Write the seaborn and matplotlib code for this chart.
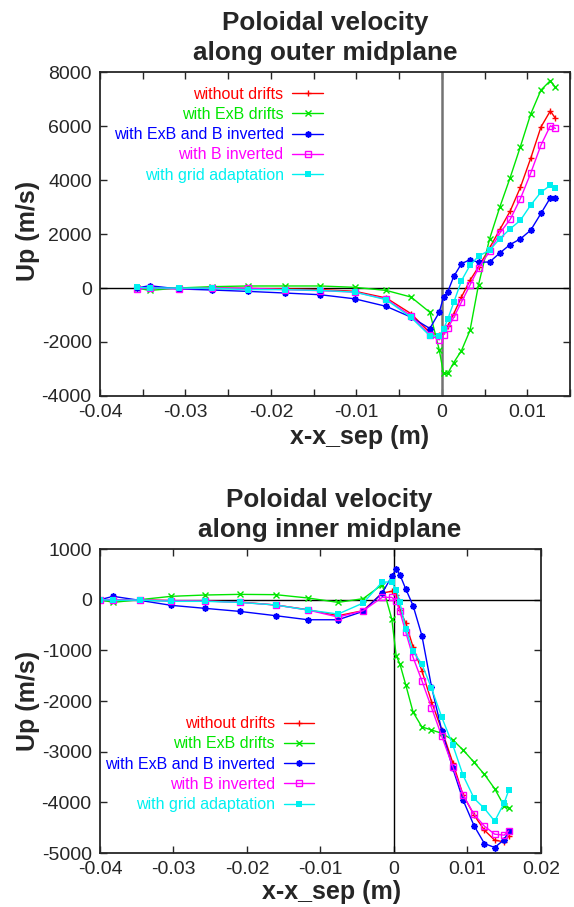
import matplotlib
matplotlib.use("Agg")
import matplotlib.pyplot as plt
import numpy as np
import seaborn as sns

# ---- outer midplane ----
x_outer = [-0.0357, -0.0342, -0.0308, -0.0269, -0.0227, -0.0184, -0.0142, -0.0102,
           -0.0065, -0.0036, -0.0014, -0.0003, 0.0002, 0.0007, 0.0014, 0.0023,
           0.0033, 0.0043, 0.0056, 0.0068, 0.0080, 0.0092, 0.0104, 0.0116, 0.0127, 0.0133]
outer_no_drifts = [0, 0, -10, 0, -20, -30, -60, -120, -370, -950, -1650, -1750, -1600,
                   -1400, -950, -335, 285, 780, 1490, 2170, 2850, 3730, 4800, 5960, 6560, 6280]
outer_exb = [0, -90, 0, 50, 75, 75, 75, 25, -90, -335, -900, -2290, -3160, -3160,
             -2760, -2320, -1570, 125, 1830, 3010, 4090, 5240, 6440, 7330, 7680, 7430]
outer_exb_binv = [0, 85, -35, -75, -125, -185, -250, -400, -680, -1080, -1500, -900, -335,
                  -135, 430, 900, 1050, 950, 965, 1300, 1610, 1820, 2140, 2760, 3340, 3340]
outer_binv = [-35, 0, -35, 0, -10, -60, -100, -150, -410, -1030, -1730, -1920, -1730,
              -1490, -1090, -520, 110, 740, 1360, 2040, 2540, 3310, 4250, 5290, 6010, 5910]
outer_grid = [25, 0, 0, -10, -60, -60, -90, -150, -435, -1090, -1770, -1770, -1520,
              -1150, -530, 270, 840, 1180, 1400, 1830, 2190, 2510, 3070, 3550, 3800, 3720]

# ---- inner midplane ----
x_inner = [-0.0400, -0.0382, -0.0346, -0.0303, -0.0257, -0.0210, -0.0161, -0.0117,
           -0.0076, -0.0042, -0.0016, -0.0003, 0.0003, 0.0008, 0.0016, 0.0026,
           0.0038, 0.0051, 0.0065, 0.0080, 0.0094, 0.0109, 0.0123, 0.0137, 0.0150, 0.0156]
inner_no_drifts = [0, 0, -7, -20, -26, -46, -105, -198, -316, -217, 132, 165, 100, -200,
                   -462, -936, -1404, -2011, -2571, -3217, -3856, -4252, -4549, -4746, -4779, -4667]
inner_exb = [0, -53, 0, 66, 92, 105, 99, 33, -53, 20, 297, -382, -1107, -1266, -1681,
             -2221, -2512, -2571, -2637, -2768, -2966, -3210, -3448, -3731, -4074, -4107]
inner_exb_binv = [0, 66, -13, -112, -171, -231, -316, -396, -396, -231, 132, 461, 606, 494,
                  211, -119, -712, -1714, -2584, -3329, -3955, -4463, -4812, -4891, -4733, -4562]
inner_binv = [0, 0, -7, -20, -26, -53, -105, -204, -343, -218, 46, 46, -33, -231, -639,
              -1140, -1602, -2129, -2696, -3296, -3856, -4239, -4469, -4628, -4647, -4562]
inner_grid = [0, -13, -7, -33, -33, -53, -105, -204, -283, -66, 349, 349, 198, -53, -580,
              -1022, -1272, -1747, -2320, -2868, -3467, -3922, -4120, -4371, -4008, -3764]

labels = ['without drifts', 'with ExB drifts', 'with ExB and B inverted',
          'with B inverted', 'with grid adaptation']
colors = ['#ff0000', '#00e600', '#0000ff', '#ff00ff', '#00f0f0']

sns.set_style("ticks")
plt.rcParams['font.family'] = ['Liberation Sans', 'DejaVu Sans']
plt.rcParams['axes.unicode_minus'] = False

markers = [dict(marker='+', markersize=5, markeredgewidth=1.0),
           dict(marker='x', markersize=4, markeredgewidth=1.0),
           dict(marker=(8, 2, 0), markersize=4.5, markeredgewidth=1.2),
           dict(marker='s', markersize=4.5, markerfacecolor='none', markeredgewidth=1.0),
           dict(marker='s', markersize=5, markeredgewidth=0)]


def draw_panel(ax, x, series, title, title_x, legend_anchor):
    ax.axhline(0, color='black', lw=1.0, zorder=1)
    for ys, lab, col, mk in zip(series, labels, colors, markers):
        sns.lineplot(x=x, y=ys, ax=ax, color=col, label=lab, lw=1.0,
                     sort=False, estimator=None, markeredgecolor=col, **mk)
    ax.set_title(title, fontsize=18.8, fontweight='bold', x=title_x, pad=9, linespacing=1.3)
    ax.set_xlabel('x-x_sep (m)', fontsize=18, fontweight='bold')
    ax.set_ylabel('Up (m/s)', fontsize=18, fontweight='bold')
    ax.tick_params(which='both', direction='in', top=True, right=True, length=5,
                   width=1, labelsize=14, pad=6)
    for s in ax.spines.values():
        s.set_linewidth(1.3)
    ax.legend(loc='upper right', bbox_to_anchor=legend_anchor, frameon=False,
              markerfirst=False, labelcolor='linecolor', fontsize=11.5,
              handlelength=1.9, handletextpad=0.55, labelspacing=0.33,
              borderpad=0, borderaxespad=0)


fig = plt.figure(figsize=(5.74, 9.07), dpi=100)

ax1 = fig.add_axes([0.1742, 0.5634, 0.8188, 0.3572])
ax1.axvline(0, color='0.45', lw=1.8, zorder=1)
draw_panel(ax1, x_outer, [outer_no_drifts, outer_exb, outer_exb_binv, outer_binv, outer_grid],
           'Poloidal velocity\nalong outer midplane', 0.479, (0.474, 0.955))
ax1.set_xlim(-0.04, 0.015)
ax1.set_ylim(-4000, 8000)
ax1.set_xticks(np.arange(-0.04, 0.0101, 0.01))
ax1.set_xticklabels(['-0.04', '-0.03', '-0.02', '-0.01', '0', '0.01'])
ax1.set_xticks(np.arange(-0.035, 0.016, 0.01), minor=True)
ax1.set_yticks(np.arange(-4000, 8001, 2000))
ax1.set_yticklabels(['-4000', '-2000', '0', '2000', '4000', '6000', '8000'])
ax1.xaxis.set_label_coords(0.552, -0.09)
ax1.yaxis.set_label_coords(-0.128, 0.51)

ax2 = fig.add_axes([0.1742, 0.0595, 0.7683, 0.3352])
ax2.axvline(0, color='black', lw=1.0, zorder=1)
draw_panel(ax2, x_inner, [inner_no_drifts, inner_exb, inner_exb_binv, inner_binv, inner_grid],
           'Poloidal velocity\nalong inner midplane', 0.52, (0.485, 0.45))
ax2.set_xlim(-0.04, 0.02)
ax2.set_ylim(-5000, 1000)
ax2.set_xticks(np.arange(-0.04, 0.0201, 0.01))
ax2.set_xticklabels(['-0.04', '-0.03', '-0.02', '-0.01', '0', '0.01', '0.02'])
ax2.set_yticks(np.arange(-5000, 1001, 1000))
ax2.set_yticklabels(['-5000', '-4000', '-3000', '-2000', '-1000', '0', '1000'])
ax2.xaxis.set_label_coords(0.526, -0.09)
ax2.yaxis.set_label_coords(-0.136, 0.5)

fig.savefig('out.png', dpi=100)
